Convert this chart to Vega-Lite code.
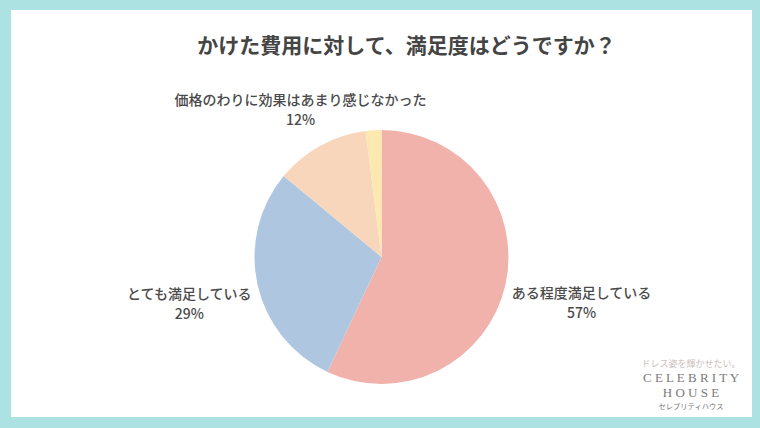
{
  "$schema": "https://vega.github.io/schema/vega-lite/v6.json",
  "width": 760,
  "height": 428,
  "autosize": {"type": "fit", "contains": "padding"},
  "padding": {"top": 7, "left": 8, "right": 8, "bottom": 11},
  "background": "#ADE2E3",
  "view": {"fill": "#FFFFFF", "stroke": null},
  "config": {
    "view": {"fill": "#FFFFFF", "stroke": null},
    "font": "Noto Sans CJK JP"
  },
  "title": {
    "text": "かけた費用に対して、満足度はどうですか？",
    "font": "Noto Sans CJK JP",
    "fontSize": 21,
    "fontWeight": "bold",
    "color": "#444444",
    "anchor": "middle",
    "dx": 25,
    "offset": -50
  },
  "data": {
    "values": [
      {"category": "ある程度満足している", "pct": 0.57, "rank": 1},
      {"category": "とても満足している", "pct": 0.29, "rank": 2},
      {"category": "価格のわりに効果はあまり感じなかった", "pct": 0.12, "rank": 3},
      {"category": "その他", "pct": 0.02, "rank": 4}
    ]
  },
  "layer": [
    {
      "mark": {"type": "point", "opacity": 0},
      "encoding": {
        "x": {"datum": 0, "type": "quantitative", "axis": null},
        "y": {"datum": 0, "type": "quantitative", "axis": null}
      }
    },
    {
      "mark": {"type": "arc", "outerRadius": 127, "x": {"expr": "width/2"}, "y": {"expr": "height/2 + 43.5"}},
      "encoding": {
        "theta": {"field": "pct", "type": "quantitative", "stack": true},
        "order": {"field": "rank", "type": "quantitative", "sort": "ascending"},
        "color": {
          "field": "category",
          "type": "nominal",
          "scale": {
            "domain": ["ある程度満足している", "とても満足している", "価格のわりに効果はあまり感じなかった", "その他"],
            "range": ["#F1B2AC", "#AFC6E1", "#F8D6BC", "#FDE8B0"]
          },
          "legend": null
        }
      }
    },
    {
      "transform": [
        {"window": [{"op": "sum", "field": "pct", "as": "cum"}], "sort": [{"field": "rank", "order": "ascending"}]},
        {"calculate": "datum.cum - datum.pct / 2", "as": "mid"},
        {"calculate": "[datum.category, format(datum.pct, '.0%')]", "as": "lines"},
        {"filter": "datum.rank == 1"}
      ],
      "mark": {"type": "text", "x": {"expr": "width/2"}, "y": {"expr": "height/2 + 43.5"}, "radius": 205, "dy": -8, "baseline": "middle", "lineHeight": 20, "fontSize": 14, "fontWeight": 500, "fill": "#4A4A4A", "font": "Noto Sans CJK JP"},
      "encoding": {
        "theta": {"field": "mid", "type": "quantitative", "stack": false},
        "text": {"field": "lines"}
      }
    },
    {
      "transform": [
        {"window": [{"op": "sum", "field": "pct", "as": "cum"}], "sort": [{"field": "rank", "order": "ascending"}]},
        {"calculate": "datum.cum - datum.pct / 2", "as": "mid"},
        {"calculate": "[datum.category, format(datum.pct, '.0%')]", "as": "lines"},
        {"filter": "datum.rank == 2"}
      ],
      "mark": {"type": "text", "x": {"expr": "width/2"}, "y": {"expr": "height/2 + 43.5"}, "radius": 197, "dy": -5, "baseline": "middle", "lineHeight": 20, "fontSize": 14, "fontWeight": 500, "fill": "#4A4A4A", "font": "Noto Sans CJK JP"},
      "encoding": {
        "theta": {"field": "mid", "type": "quantitative", "stack": false},
        "text": {"field": "lines"}
      }
    },
    {
      "transform": [
        {"window": [{"op": "sum", "field": "pct", "as": "cum"}], "sort": [{"field": "rank", "order": "ascending"}]},
        {"calculate": "datum.cum - datum.pct / 2", "as": "mid"},
        {"calculate": "[datum.category, format(datum.pct, '.0%')]", "as": "lines"},
        {"filter": "datum.rank == 3"}
      ],
      "mark": {"type": "text", "x": {"expr": "width/2"}, "y": {"expr": "height/2 + 43.5"}, "radius": 168, "dy": -8.5, "baseline": "middle", "lineHeight": 20, "fontSize": 14, "fontWeight": 500, "fill": "#4A4A4A", "font": "Noto Sans CJK JP"},
      "encoding": {
        "theta": {"field": "mid", "type": "quantitative", "stack": false},
        "text": {"field": "lines"}
      }
    },
    {
      "data": {"values": [{"t": "ドレス姿を輝かせたい。"}]},
      "mark": {"type": "text", "x": {"expr": "width - 61"}, "y": {"expr": "height - 53"}, "fontSize": 9, "fill": "#CDBDBA", "font": "Noto Sans CJK JP", "baseline": "middle"},
      "encoding": {"text": {"field": "t", "type": "nominal"}}
    },
    {
      "data": {"values": [{"t": "C E L E B R I T Y"}]},
      "mark": {"type": "text", "x": {"expr": "width - 61"}, "y": {"expr": "height - 39"}, "fontSize": 13, "fill": "#7A7A7A", "font": "Liberation Serif", "baseline": "middle"},
      "encoding": {"text": {"field": "t", "type": "nominal"}}
    },
    {
      "data": {"values": [{"t": "H O U S E"}]},
      "mark": {"type": "text", "x": {"expr": "width - 61"}, "y": {"expr": "height - 24"}, "fontSize": 13, "fill": "#7A7A7A", "font": "Liberation Serif", "baseline": "middle"},
      "encoding": {"text": {"field": "t", "type": "nominal"}}
    },
    {
      "data": {"values": [{"t": "セレブリティハウス"}]},
      "mark": {"type": "text", "x": {"expr": "width - 61"}, "y": {"expr": "height - 10"}, "fontSize": 7.3, "fill": "#777777", "font": "Noto Sans CJK JP", "baseline": "middle"},
      "encoding": {"text": {"field": "t", "type": "nominal"}}
    }
  ]
}
